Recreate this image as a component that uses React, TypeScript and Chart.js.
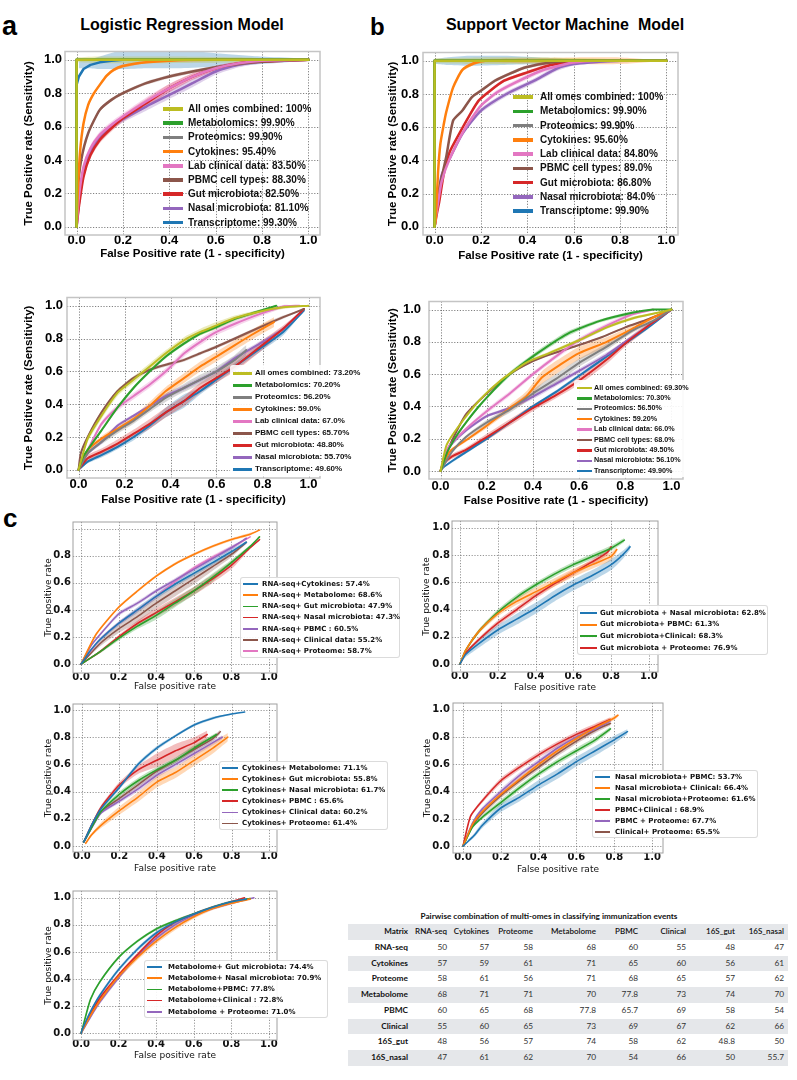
import React, { useEffect, useRef } from "react";
import { Chart, registerables } from "chart.js";
Chart.register(...registerables);

// ---------- colours (matplotlib tab10) ----------
const BLUE = "#1f77b4", ORANGE = "#ff7f0e", GREEN = "#2ca02c", RED = "#d62728", PURPLE = "#9467bd",
  BROWN = "#8c564b", PINK = "#e377c2", GRAY = "#7f7f7f", OLIVE = "#bcbd22";

const TICKS = [0, 0.2, 0.4, 0.6, 0.8, 1.0];

// ================= DATA =================
// points are [false positive rate, true positive rate, half-width of shaded band]
// bands (when given separately) are [false positive rate, lower, upper]

// ---- a: Logistic regression, top ----
const LR1_LABELS = ["All omes combined: 100%", "Metabolomics: 99.90%", "Proteomics: 99.90%", "Cytokines: 95.40%", "Lab clinical data: 83.50%", "PBMC cell types: 88.30%", "Gut microbiota: 82.50%", "Nasal microbiota: 81.10%", "Transcriptome: 99.30%"];
const LR1_ALL = [[0, 0, 0], [0, 1, 0], [1, 1, 0]];
const LR1_ALL_BAND = [[0, 0.985, 1.015], [0.1, 0.98, 1.02], [0.4, 0.98, 1.02], [0.7, 0.985, 1.015], [1, 1, 1]];
const LR1_MET = [[0, 0, 0], [0, 1, 0], [1, 1, 0]];
const LR1_PRO = [[0, 0, 0], [0, 1, 0], [1, 1, 0]];
const LR1_CYT = [[0, 0, 0], [0.005, 0.2, 0], [0.015, 0.45, 0.01], [0.03, 0.62, 0.01], [0.05, 0.73, 0.01], [0.075, 0.8, 0.01], [0.1, 0.85, 0.01], [0.13, 0.905, 0.01], [0.16, 0.94, 0.01], [0.2, 0.963, 0.01], [0.3, 0.985, 0.005], [0.4, 0.995, 0], [0.6, 1, 0], [1, 1, 0]];
const LR1_LAB = [[0, 0, 0], [0.01, 0.18, 0.02], [0.03, 0.36, 0.02], [0.06, 0.47, 0.02], [0.1, 0.55, 0.02], [0.15, 0.61, 0.02], [0.2, 0.66, 0.02], [0.3, 0.75, 0.025], [0.4, 0.83, 0.025], [0.5, 0.9, 0.02], [0.6, 0.95, 0.015], [0.7, 0.98, 0.01], [0.8, 0.995, 0.01], [1, 1, 0]];
const LR1_PBMC = [[0, 0, 0], [0.005, 0.22, 0.01], [0.02, 0.4, 0.01], [0.05, 0.56, 0.01], [0.1, 0.7, 0.01], [0.15, 0.76, 0.01], [0.2, 0.8, 0.01], [0.3, 0.86, 0.01], [0.4, 0.9, 0.01], [0.5, 0.93, 0.01], [0.6, 0.955, 0.01], [0.7, 0.975, 0.01], [0.8, 0.99, 0.01], [1, 1, 0]];
const LR1_GUT = [[0, 0, 0], [0.01, 0.12, 0.02], [0.03, 0.3, 0.02], [0.06, 0.43, 0.02], [0.1, 0.52, 0.02], [0.15, 0.59, 0.02], [0.2, 0.65, 0.02], [0.3, 0.74, 0.025], [0.4, 0.83, 0.025], [0.5, 0.9, 0.02], [0.6, 0.95, 0.015], [0.7, 0.98, 0.01], [0.8, 0.99, 0.01], [1, 1, 0]];
const LR1_NAS = [[0, 0, 0], [0.01, 0.14, 0.02], [0.03, 0.33, 0.02], [0.06, 0.45, 0.02], [0.1, 0.54, 0.02], [0.15, 0.6, 0.02], [0.2, 0.645, 0.02], [0.3, 0.72, 0.025], [0.4, 0.79, 0.025], [0.5, 0.86, 0.025], [0.6, 0.93, 0.02], [0.7, 0.97, 0.015], [0.8, 0.99, 0.01], [1, 1, 0]];
const LR1_TRA = [[0, 0, 0], [0, 0.85, 0], [0.01, 0.9, 0], [0.03, 0.945, 0], [0.06, 0.97, 0], [0.1, 0.985, 0], [0.15, 0.995, 0], [0.2, 1, 0], [1, 1, 0]];
const LR1_TRA_BAND = [[0.01, 0.95, 0.99], [0.05, 0.95, 1.0], [0.1, 0.945, 1.02], [0.2, 0.945, 1.06], [0.3, 0.95, 1.07], [0.45, 0.95, 1.06], [0.6, 0.96, 1.04], [0.8, 0.975, 1.02], [0.95, 0.99, 1.01]];

// ---- b: SVM, top ----
const SV1_LABELS = ["All omes combined: 100%", "Metabolomics: 99.90%", "Proteomics: 99.90%", "Cytokines: 95.60%", "Lab clinical data: 84.80%", "PBMC cell types: 89.0%", "Gut microbiota: 86.80%", "Nasal microbiota: 84.0%", "Transcriptome: 99.90%"];
const SV1_ALL = [[0, 0, 0], [0, 1, 0], [1, 1, 0]];
const SV1_ALL_BAND = [[0, 0.985, 1.015], [0.2, 0.98, 1.02], [0.5, 0.985, 1.02], [1, 1, 1]];
const SV1_MET = [[0, 0, 0], [0, 1, 0], [1, 1, 0]];
const SV1_PRO = [[0, 0, 0], [0, 1, 0], [1, 1, 0]];
const SV1_CYT = [[0, 0, 0], [0.005, 0.05, 0], [0.015, 0.33, 0.01], [0.025, 0.5, 0.01], [0.04, 0.62, 0.01], [0.05, 0.69, 0.01], [0.08, 0.84, 0.01], [0.12, 0.945, 0.01], [0.17, 0.985, 0.01], [0.22, 1, 0.01], [0.4, 1, 0.015], [0.6, 1, 0.02], [0.8, 1, 0.02], [1, 1, 0]];
const SV1_LAB = [[0, 0, 0], [0.01, 0.1, 0.01], [0.03, 0.27, 0.01], [0.065, 0.41, 0.01], [0.13, 0.59, 0.01], [0.2, 0.73, 0.01], [0.27, 0.81, 0.015], [0.35, 0.87, 0.015], [0.46, 0.94, 0.015], [0.55, 0.975, 0.01], [0.6, 0.99, 0.01], [0.7, 1, 0.01], [1, 1, 0]];
const SV1_PBMC = [[0, 0, 0], [0.01, 0.12, 0.01], [0.02, 0.23, 0.01], [0.05, 0.42, 0.01], [0.08, 0.64, 0.01], [0.12, 0.7, 0.01], [0.16, 0.78, 0.01], [0.2, 0.82, 0.01], [0.26, 0.88, 0.01], [0.32, 0.92, 0.01], [0.39, 0.96, 0.01], [0.5, 0.99, 0.01], [0.65, 1, 0.01], [1, 1, 0]];
const SV1_GUT = [[0, 0, 0], [0.01, 0.08, 0.01], [0.02, 0.15, 0.01], [0.04, 0.32, 0.01], [0.065, 0.45, 0.01], [0.11, 0.57, 0.01], [0.15, 0.67, 0.01], [0.19, 0.76, 0.01], [0.24, 0.82, 0.01], [0.3, 0.88, 0.01], [0.4, 0.93, 0.01], [0.5, 0.975, 0.01], [0.65, 1, 0.01], [1, 1, 0]];
const SV1_NAS = [[0, 0, 0], [0.01, 0.12, 0.01], [0.03, 0.31, 0.01], [0.065, 0.41, 0.01], [0.12, 0.56, 0.01], [0.2, 0.7, 0.015], [0.31, 0.8, 0.015], [0.43, 0.88, 0.015], [0.53, 0.955, 0.015], [0.6, 0.98, 0.01], [0.67, 0.99, 0.01], [0.8, 1, 0.01], [1, 1, 0]];
const SV1_TRA = [[0, 0, 0], [0, 1, 0], [1, 1, 0]];
const SV1_TRA_BAND = [[0, 0.98, 1.01], [0.05, 0.975, 1.02], [0.15, 0.97, 1.03], [0.3, 0.975, 1.03], [0.45, 0.98, 1.02], [0.6, 0.99, 1.01]];

// ---- a: Logistic regression, bottom ----
const LR2_LABELS = ["All omes combined: 73.20%", "Metabolomics: 70.20%", "Proteomics: 56.20%", "Cytokines: 59.0%", "Lab clinical data: 67.0%", "PBMC cell types: 65.70%", "Gut microbiota: 48.80%", "Nasal microbiota: 55.70%", "Transcriptome: 49.60%"];
const LR2_ALL = [[0, 0, 0], [0.01, 0.05, 0.01], [0.04, 0.19, 0.02], [0.1, 0.33, 0.02], [0.17, 0.47, 0.02], [0.24, 0.55, 0.02], [0.31, 0.63, 0.02], [0.38, 0.71, 0.02], [0.46, 0.79, 0.02], [0.53, 0.84, 0.02], [0.6, 0.88, 0.02], [0.68, 0.925, 0.015], [0.79, 0.965, 0.01], [0.89, 0.99, 0.01], [1, 1, 0]];
const LR2_MET = [[0, 0, 0], [0.02, 0.08, 0.01], [0.1, 0.24, 0.01], [0.17, 0.38, 0.01], [0.24, 0.5, 0.01], [0.31, 0.6, 0.01], [0.38, 0.69, 0.01], [0.46, 0.77, 0.01], [0.53, 0.83, 0.01], [0.6, 0.87, 0.01], [0.68, 0.92, 0.01], [0.77, 0.96, 0.01], [0.86, 1, 0.005]];
const LR2_PRO = [[0, 0, 0], [0.04, 0.1, 0.01], [0.1, 0.17, 0.015], [0.17, 0.24, 0.02], [0.24, 0.3, 0.02], [0.31, 0.37, 0.02], [0.38, 0.44, 0.025], [0.46, 0.5, 0.025], [0.53, 0.55, 0.03], [0.6, 0.6, 0.03], [0.68, 0.67, 0.03], [0.73, 0.73, 0.03]];
const LR2_CYT = [[0, 0, 0], [0.04, 0.12, 0.01], [0.1, 0.19, 0.015], [0.17, 0.25, 0.02], [0.24, 0.31, 0.02], [0.31, 0.39, 0.025], [0.38, 0.48, 0.025], [0.46, 0.56, 0.03], [0.53, 0.63, 0.03], [0.6, 0.69, 0.03], [0.68, 0.76, 0.03], [0.75, 0.82, 0.03], [0.85, 0.9, 0.03]];
const LR2_LAB = [[0, 0, 0], [0.04, 0.12, 0.01], [0.1, 0.28, 0.015], [0.17, 0.38, 0.02], [0.24, 0.45, 0.02], [0.31, 0.52, 0.02], [0.38, 0.6, 0.02], [0.46, 0.71, 0.02], [0.53, 0.78, 0.02], [0.6, 0.84, 0.02], [0.68, 0.89, 0.02], [0.79, 0.95, 0.015], [0.89, 0.995, 0.01], [0.96, 1, 0]];
const LR2_PBMC = [[0, 0, 0], [0.01, 0.1, 0.01], [0.04, 0.2, 0.01], [0.1, 0.35, 0.01], [0.17, 0.48, 0.01], [0.24, 0.56, 0.01], [0.31, 0.61, 0.01], [0.38, 0.64, 0.01], [0.46, 0.67, 0.01], [0.53, 0.71, 0.01], [0.6, 0.75, 0.01], [0.68, 0.8, 0.01], [0.79, 0.87, 0.01], [0.89, 0.93, 0.01], [0.98, 0.98, 0]];
const LR2_GUT = [[0, 0, 0], [0.04, 0.07, 0.02], [0.1, 0.11, 0.02], [0.17, 0.16, 0.025], [0.24, 0.22, 0.025], [0.31, 0.28, 0.03], [0.38, 0.35, 0.03], [0.46, 0.42, 0.03], [0.53, 0.5, 0.03], [0.6, 0.56, 0.03], [0.68, 0.63, 0.03], [0.79, 0.75, 0.03], [0.89, 0.86, 0.02], [0.98, 0.98, 0]];
const LR2_NAS = [[0, 0, 0], [0.04, 0.1, 0.01], [0.1, 0.17, 0.01], [0.17, 0.27, 0.01], [0.24, 0.33, 0.01], [0.31, 0.39, 0.01], [0.38, 0.45, 0.015], [0.46, 0.5, 0.015], [0.53, 0.55, 0.015], [0.6, 0.6, 0.015], [0.68, 0.68, 0.015], [0.79, 0.77, 0.015], [0.89, 0.86, 0.01], [0.98, 0.98, 0]];
const LR2_TRA = [[0, 0, 0], [0.04, 0.05, 0.01], [0.1, 0.09, 0.015], [0.17, 0.14, 0.015], [0.24, 0.2, 0.02], [0.31, 0.27, 0.02], [0.38, 0.35, 0.03], [0.46, 0.42, 0.04], [0.53, 0.48, 0.02], [0.6, 0.55, 0.02], [0.68, 0.63, 0.02], [0.79, 0.74, 0.02], [0.89, 0.84, 0.02], [0.98, 0.97, 0]];

// ---- b: SVM, bottom ----
const SV2_LABELS = ["All omes combined: 69.30%", "Metabolomics: 70.30%", "Proteomics: 56.50%", "Cytokines: 59.20%", "Lab clinical data: 66.0%", "PBMC cell types: 68.0%", "Gut microbiota: 49.50%", "Nasal microbiota: 56.10%", "Transcriptome: 49.90%"];
const SV2_ALL = [[0, 0, 0], [0.026, 0.16, 0.01], [0.08, 0.28, 0.01], [0.17, 0.44, 0.01], [0.26, 0.56, 0.01], [0.37, 0.67, 0.01], [0.47, 0.73, 0.01], [0.6, 0.81, 0.01], [0.72, 0.89, 0.01], [0.83, 0.945, 0.01], [0.94, 0.98, 0.005], [1, 1, 0]];
const SV2_MET = [[0, 0, 0], [0.03, 0.12, 0.01], [0.07, 0.22, 0.01], [0.11, 0.3, 0.01], [0.16, 0.39, 0.01], [0.21, 0.47, 0.01], [0.3, 0.6, 0.015], [0.42, 0.73, 0.015], [0.55, 0.85, 0.015], [0.69, 0.93, 0.01], [0.83, 0.98, 0.01], [0.92, 1, 0], [1, 1, 0]];
const SV2_PRO = [[0, 0, 0], [0.05, 0.12, 0.01], [0.11, 0.21, 0.01], [0.2, 0.3, 0.015], [0.3, 0.38, 0.02], [0.4, 0.48, 0.025], [0.5, 0.57, 0.03], [0.6, 0.67, 0.025], [0.72, 0.77, 0.02], [0.83, 0.87, 0.015], [0.92, 0.93, 0.01], [1, 1, 0]];
const SV2_CYT = [[0, 0, 0], [0.04, 0.12, 0.01], [0.11, 0.19, 0.01], [0.2, 0.28, 0.015], [0.3, 0.39, 0.02], [0.37, 0.46, 0.03], [0.44, 0.58, 0.04], [0.52, 0.66, 0.04], [0.6, 0.73, 0.04], [0.72, 0.8, 0.03], [0.83, 0.88, 0.02], [0.92, 0.95, 0.01], [1, 1, 0]];
const SV2_LAB = [[0, 0, 0], [0.03, 0.14, 0.01], [0.11, 0.26, 0.01], [0.2, 0.37, 0.015], [0.3, 0.48, 0.015], [0.4, 0.6, 0.015], [0.5, 0.71, 0.015], [0.6, 0.81, 0.015], [0.72, 0.9, 0.015], [0.83, 0.97, 0.01], [0.92, 1, 0]];
const SV2_PBMC = [[0, 0, 0], [0.012, 0.06, 0.005], [0.04, 0.16, 0.005], [0.11, 0.35, 0.005], [0.2, 0.48, 0.005], [0.3, 0.6, 0.005], [0.4, 0.68, 0.005], [0.47, 0.72, 0.005], [0.6, 0.78, 0.005], [0.7, 0.83, 0.005], [0.8, 0.89, 0.005], [0.9, 0.94, 0.005], [1, 1, 0]];
const SV2_GUT = [[0, 0, 0], [0.01, 0.04, 0.01], [0.05, 0.09, 0.015], [0.11, 0.13, 0.015], [0.2, 0.21, 0.02], [0.3, 0.3, 0.02], [0.4, 0.39, 0.02], [0.5, 0.47, 0.02], [0.6, 0.56, 0.025], [0.72, 0.69, 0.025], [0.8, 0.79, 0.02], [0.9, 0.9, 0.015], [1, 1, 0]];
const SV2_NAS = [[0, 0, 0], [0.04, 0.15, 0.01], [0.11, 0.25, 0.01], [0.2, 0.34, 0.01], [0.3, 0.39, 0.01], [0.4, 0.46, 0.015], [0.5, 0.54, 0.015], [0.6, 0.62, 0.015], [0.72, 0.72, 0.015], [0.83, 0.83, 0.01], [0.92, 0.92, 0.01], [1, 1, 0]];
const SV2_TRA = [[0, 0, 0], [0.01, 0.02, 0.005], [0.07, 0.08, 0.01], [0.2, 0.2, 0.01], [0.3, 0.3, 0.01], [0.4, 0.4, 0.01], [0.5, 0.49, 0.01], [0.6, 0.59, 0.01], [0.7, 0.69, 0.01], [0.8, 0.79, 0.01], [0.9, 0.89, 0.01], [1, 1, 0]];

// ---- c: RNA-seq pairs ----
const RNA_LABELS = ["RNA-seq+Cytokines: 57.4%", "RNA-seq+ Metabolome: 68.6%", "RNA-seq+ Gut microbiota: 47.9%", "RNA-seq+ Nasal microbiota: 47.3%", "RNA-seq+ PBMC : 60.5%", "RNA-seq+ Clinical data: 55.2%", "RNA-seq+ Proteome: 58.7%"];
const RNA_CYT = [[0, 0, 0.01], [0.05, 0.1, 0.01], [0.1, 0.18, 0.015], [0.2, 0.3, 0.015], [0.3, 0.4, 0.02], [0.4, 0.5, 0.02], [0.5, 0.59, 0.02], [0.6, 0.67, 0.02], [0.7, 0.75, 0.02], [0.8, 0.83, 0.02], [0.88, 0.9, 0.01]];
const RNA_MET = [[0, 0, 0], [0.08, 0.22, 0.01], [0.2, 0.42, 0.01], [0.3, 0.54, 0.01], [0.4, 0.65, 0.01], [0.5, 0.74, 0.01], [0.6, 0.81, 0.01], [0.7, 0.87, 0.01], [0.8, 0.92, 0.01], [0.9, 0.96, 0.01], [0.95, 0.99, 0]];
const RNA_GUT = [[0, 0, 0], [0.1, 0.09, 0.01], [0.2, 0.19, 0.015], [0.3, 0.28, 0.02], [0.4, 0.36, 0.03], [0.5, 0.45, 0.03], [0.6, 0.54, 0.03], [0.7, 0.64, 0.03], [0.8, 0.75, 0.02], [0.9, 0.87, 0.01], [0.95, 0.94, 0]];
const RNA_NAS = [[0, 0, 0], [0.1, 0.09, 0.01], [0.2, 0.2, 0.015], [0.3, 0.3, 0.02], [0.4, 0.38, 0.03], [0.5, 0.46, 0.03], [0.6, 0.54, 0.03], [0.7, 0.63, 0.03], [0.8, 0.73, 0.03], [0.9, 0.86, 0.01], [0.95, 0.92, 0]];
const RNA_PBMC = [[0, 0, 0], [0.05, 0.13, 0.01], [0.09, 0.2, 0.01], [0.2, 0.37, 0.015], [0.3, 0.45, 0.015], [0.4, 0.54, 0.015], [0.5, 0.62, 0.015], [0.6, 0.7, 0.015], [0.7, 0.78, 0.015], [0.8, 0.86, 0.015], [0.88, 0.93, 0]];
const RNA_CLI = [[0, 0, 0], [0.1, 0.15, 0.02], [0.2, 0.26, 0.03], [0.3, 0.35, 0.04], [0.4, 0.45, 0.04], [0.5, 0.54, 0.04], [0.6, 0.63, 0.04], [0.7, 0.72, 0.03], [0.8, 0.81, 0.02], [0.88, 0.9, 0.01]];
const RNA_PRO = [[0, 0, 0], [0.1, 0.18, 0.01], [0.2, 0.3, 0.015], [0.3, 0.4, 0.015], [0.4, 0.5, 0.015], [0.5, 0.61, 0.015], [0.6, 0.71, 0.015], [0.7, 0.79, 0.015], [0.8, 0.86, 0.015], [0.9, 0.94, 0]];

// ---- c: Gut microbiota pairs ----
const GUT_LABELS = ["Gut microbiota + Nasal microbiota: 62.8%", "Gut microbiota+ PBMC: 61.3%", "Gut microbiota+Clinical: 68.3%", "Gut microbiota + Proteome: 76.9%"];
const GUT_NAS = [[0, 0, 0], [0.03, 0.07, 0.02], [0.1, 0.15, 0.03], [0.2, 0.25, 0.035], [0.3, 0.33, 0.04], [0.4, 0.41, 0.04], [0.5, 0.5, 0.04], [0.6, 0.58, 0.04], [0.7, 0.65, 0.04], [0.8, 0.73, 0.04], [0.86, 0.8, 0.03], [0.9, 0.86, 0.02]];
const GUT_PBMC = [[0, 0, 0], [0.03, 0.1, 0.01], [0.1, 0.24, 0.015], [0.2, 0.37, 0.02], [0.3, 0.46, 0.025], [0.4, 0.53, 0.03], [0.5, 0.6, 0.03], [0.6, 0.67, 0.03], [0.7, 0.73, 0.03], [0.8, 0.79, 0.03], [0.83, 0.84, 0.02]];
const GUT_CLI = [[0, 0, 0], [0.03, 0.1, 0.01], [0.1, 0.24, 0.015], [0.2, 0.38, 0.02], [0.3, 0.49, 0.02], [0.4, 0.58, 0.02], [0.5, 0.66, 0.02], [0.6, 0.73, 0.02], [0.7, 0.79, 0.02], [0.8, 0.85, 0.02], [0.87, 0.91, 0.015]];
const GUT_PRO = [[0, 0, 0], [0.03, 0.08, 0.01], [0.1, 0.18, 0.015], [0.2, 0.3, 0.02], [0.3, 0.4, 0.02], [0.4, 0.5, 0.02], [0.5, 0.59, 0.02], [0.6, 0.67, 0.02], [0.7, 0.75, 0.02], [0.78, 0.82, 0.02], [0.8, 0.86, 0.01]];

// ---- c: Cytokines pairs ----
const CYT_LABELS = ["Cytokines+ Metabolome: 71.1%", "Cytokines+ Gut microbiota: 55.8%", "Cytokines+ Nasal microbiota: 61.7%", "Cytokines+ PBMC : 65.6%", "Cytokines+ Clinical data: 60.2%", "Cytokines+ Proteome: 61.4%"];
const CYT_MET = [[0.01, 0.03, 0], [0.05, 0.15, 0.01], [0.1, 0.27, 0.01], [0.2, 0.43, 0.015], [0.3, 0.6, 0.015], [0.4, 0.72, 0.015], [0.5, 0.81, 0.01], [0.6, 0.89, 0.01], [0.7, 0.94, 0.01], [0.8, 0.97, 0.005], [0.87, 0.985, 0]];
const CYT_GUT = [[0.02, 0.02, 0], [0.05, 0.08, 0.01], [0.1, 0.15, 0.02], [0.2, 0.26, 0.03], [0.3, 0.36, 0.035], [0.4, 0.47, 0.04], [0.5, 0.54, 0.04], [0.6, 0.63, 0.04], [0.7, 0.72, 0.04], [0.78, 0.8, 0.03]];
const CYT_NAS = [[0.01, 0.03, 0], [0.1, 0.25, 0.015], [0.2, 0.38, 0.02], [0.3, 0.48, 0.02], [0.4, 0.56, 0.02], [0.5, 0.63, 0.02], [0.6, 0.72, 0.02], [0.72, 0.82, 0.015]];
const CYT_PBMC = [[0.01, 0.03, 0], [0.05, 0.15, 0.01], [0.1, 0.28, 0.015], [0.2, 0.45, 0.02], [0.3, 0.56, 0.03], [0.4, 0.63, 0.05], [0.5, 0.7, 0.05], [0.6, 0.76, 0.04], [0.67, 0.82, 0.03]];
const CYT_CLI = [[0.01, 0.03, 0], [0.1, 0.24, 0.01], [0.2, 0.33, 0.015], [0.3, 0.42, 0.02], [0.4, 0.52, 0.02], [0.5, 0.6, 0.02], [0.6, 0.68, 0.02], [0.7, 0.76, 0.02], [0.75, 0.8, 0.015]];
const CYT_PRO = [[0.01, 0.03, 0], [0.1, 0.25, 0.01], [0.2, 0.35, 0.015], [0.3, 0.45, 0.02], [0.4, 0.55, 0.02], [0.5, 0.63, 0.02], [0.6, 0.71, 0.02], [0.7, 0.79, 0.02], [0.74, 0.84, 0.015]];

// ---- c: Nasal / PBMC / Clinical pairs ----
const NAS_LABELS = ["Nasal microbiota+ PBMC: 53.7%", "Nasal microbiota+ Clinical: 66.4%", "Nasal microbiota+Proteome: 61.6%", "PBMC+Clinical : 68.9%", "PBMC + Proteome: 67.7%", "Clinical+ Proteome: 65.5%"];
const NAS_PBMC = [[0, 0, 0], [0.03, 0.04, 0.01], [0.06, 0.08, 0.015], [0.1, 0.15, 0.02], [0.2, 0.28, 0.03], [0.3, 0.36, 0.03], [0.4, 0.45, 0.035], [0.5, 0.53, 0.035], [0.6, 0.62, 0.035], [0.7, 0.7, 0.035], [0.8, 0.78, 0.03], [0.87, 0.84, 0.02]];
const NAS_CLI = [[0, 0, 0], [0.05, 0.16, 0.01], [0.1, 0.25, 0.015], [0.2, 0.38, 0.02], [0.3, 0.49, 0.02], [0.4, 0.6, 0.02], [0.5, 0.7, 0.02], [0.6, 0.79, 0.02], [0.7, 0.87, 0.02], [0.8, 0.94, 0.015], [0.82, 0.96, 0.01]];
const NAS_PRO = [[0, 0, 0], [0.05, 0.14, 0.01], [0.1, 0.21, 0.015], [0.2, 0.32, 0.02], [0.3, 0.43, 0.02], [0.4, 0.53, 0.02], [0.5, 0.62, 0.02], [0.6, 0.7, 0.02], [0.7, 0.78, 0.02], [0.78, 0.86, 0.015]];
const PBMC_CLI = [[0, 0, 0], [0.04, 0.22, 0.01], [0.1, 0.33, 0.015], [0.2, 0.48, 0.02], [0.3, 0.58, 0.02], [0.4, 0.67, 0.02], [0.5, 0.75, 0.02], [0.6, 0.82, 0.02], [0.7, 0.88, 0.02], [0.78, 0.93, 0.015]];
const PBMC_PRO = [[0, 0, 0], [0.05, 0.17, 0.01], [0.1, 0.27, 0.015], [0.2, 0.4, 0.02], [0.3, 0.52, 0.02], [0.4, 0.62, 0.02], [0.5, 0.72, 0.02], [0.6, 0.8, 0.02], [0.7, 0.86, 0.02], [0.78, 0.92, 0.015]];
const CLI_PRO = [[0, 0, 0], [0.05, 0.15, 0.01], [0.1, 0.24, 0.015], [0.2, 0.37, 0.02], [0.3, 0.48, 0.02], [0.4, 0.58, 0.02], [0.5, 0.68, 0.02], [0.6, 0.77, 0.02], [0.7, 0.85, 0.02], [0.78, 0.9, 0.015]];

// ---- c: Metabolome pairs ----
const MET_LABELS = ["Metabolome+ Gut microbiota: 74.4%", "Metabolome+ Nasal microbiota: 70.9%", "Metabolome+PBMC: 77.8%", "Metabolome+Clinical : 72.8%", "Metabolome + Proteome: 71.0%"];
const MET_GUT = [[0, 0, 0], [0.01, 0.04, 0.01], [0.05, 0.16, 0.01], [0.1, 0.28, 0.015], [0.2, 0.47, 0.015], [0.3, 0.62, 0.015], [0.4, 0.74, 0.015], [0.5, 0.82, 0.015], [0.6, 0.88, 0.01], [0.7, 0.93, 0.01], [0.8, 0.97, 0.01], [0.88, 0.99, 0]];
const MET_NAS = [[0, 0, 0], [0.05, 0.13, 0.01], [0.1, 0.24, 0.015], [0.2, 0.42, 0.02], [0.3, 0.56, 0.02], [0.4, 0.68, 0.02], [0.5, 0.78, 0.02], [0.6, 0.86, 0.015], [0.7, 0.92, 0.01], [0.8, 0.96, 0.01], [0.9, 0.99, 0]];
const MET_PBMC = [[0, 0, 0], [0.01, 0.05, 0.01], [0.05, 0.25, 0.01], [0.1, 0.38, 0.01], [0.2, 0.56, 0.01], [0.3, 0.68, 0.01], [0.4, 0.77, 0.01], [0.5, 0.83, 0.01], [0.6, 0.88, 0.01], [0.7, 0.93, 0.01], [0.8, 0.97, 0.005], [0.9, 0.995, 0]];
const MET_CLI = [[0, 0, 0], [0.01, 0.04, 0.01], [0.05, 0.14, 0.01], [0.1, 0.26, 0.015], [0.2, 0.43, 0.015], [0.3, 0.58, 0.015], [0.4, 0.72, 0.015], [0.5, 0.82, 0.015], [0.6, 0.88, 0.01], [0.7, 0.93, 0.01], [0.8, 0.97, 0.01], [0.87, 1, 0]];
const MET_PRO = [[0, 0, 0], [0.05, 0.12, 0.01], [0.1, 0.23, 0.015], [0.2, 0.41, 0.015], [0.3, 0.57, 0.015], [0.4, 0.7, 0.015], [0.5, 0.8, 0.015], [0.6, 0.87, 0.01], [0.7, 0.92, 0.01], [0.8, 0.96, 0.01], [0.92, 1, 0]];

// ---- c: table ----
const TABLE_TITLE = "Pairwise combination of multi-omes in classifying immunization events";
const TABLE_HEAD = ["Matrix", "RNA-seq", "Cytokines", "Proteome", "Metabolome", "PBMC", "Clinical", "16S_gut", "16S_nasal"];
const TABLE_ROWS = ["RNA-seq", "Cytokines", "Proteome", "Metabolome", "PBMC", "Clinical", "16S_gut", "16S_nasal"];
const TABLE_VALUES = [
  ["50", "57", "58", "68", "60", "55", "48", "47"],
  ["57", "59", "61", "71", "65", "60", "56", "61"],
  ["58", "61", "56", "71", "68", "65", "57", "62"],
  ["68", "71", "71", "70", "77.8", "73", "74", "70"],
  ["60", "65", "68", "77.8", "65.7", "69", "58", "54"],
  ["55", "60", "65", "73", "69", "67", "62", "66"],
  ["48", "56", "57", "74", "58", "62", "48.8", "50"],
  ["47", "61", "62", "70", "54", "66", "50", "55.7"],
];

// ================= STYLE / LAYOUT =================
const TOP_COLORS = [OLIVE, GREEN, GRAY, ORANGE, PINK, BROWN, RED, PURPLE, BLUE];
const HELV = '"Liberation Sans", Arial, Helvetica, sans-serif';
const DEJA = '"DejaVu Sans", Verdana, sans-serif';
const TABF = "Lato, 'Open Sans', sans-serif";

function mk(labels: string[], colors: string[], pts: number[][][], bands: any[] = []) {
  return labels.map((label, i) => ({ label, color: colors[i], pts: pts[i], band: bands[i] }));
}

const topBase = {
  tickFont: { family: HELV, size: 13, weight: "bold" },
  titleFont: { family: HELV, size: 11.5, weight: "bold" },
  xTitle: "False Positive rate (1 - specificity)",
  yTitle: "True Positive rate (Sensitivity)",
  frameColor: "#c4c4c4", frameWidth: 1.5, gridColor: "rgba(70,70,70,0.85)",
  textColor: "#000", alpha: 0.3, yLabels: TICKS,
};
const cBase = {
  tickFont: { family: DEJA, size: 10, weight: "bold" },
  titleFont: { family: DEJA, size: 9, weight: "normal" },
  xTitle: "False positive rate",
  yTitle: "True positive rate",
  frameColor: "#a0a0a0", frameWidth: 1, gridColor: "rgba(90,90,90,0.8)",
  textColor: "#111", alpha: 0.3, yLabels: TICKS, lw: 1.6,
};

const SPECS: any[] = [
  {
    ...topBase, frame: [65, 48, 320, 235], xr: [-0.05, 1.05], yr: [-0.05, 1.05], yTitleX: 29, xTitleY: 254, xPad: -1, yPad: 3, lw: 2.5,
    series: mk(LR1_LABELS, TOP_COLORS, [LR1_ALL, LR1_MET, LR1_PRO, LR1_CYT, LR1_LAB, LR1_PBMC, LR1_GUT, LR1_NAS, LR1_TRA], [LR1_ALL_BAND, , , , , , , , LR1_TRA_BAND]),
    legend: { lx: 163, len: 20, tx: 188, y0: 109, dy: 14.2, fs: 10, family: HELV, lw: 3.5 },
  },
  {
    ...topBase, frame: [423, 48, 678, 235], xr: [-0.05, 1.05], yr: [-0.05, 1.05], yTitleX: 393, xTitleY: 256, xPad: -1, yPad: 4, lw: 2.5,
    series: mk(SV1_LABELS, TOP_COLORS, [SV1_ALL, SV1_MET, SV1_PRO, SV1_CYT, SV1_LAB, SV1_PBMC, SV1_GUT, SV1_NAS, SV1_TRA], [SV1_ALL_BAND, , , , , , , , SV1_TRA_BAND]),
    legend: { lx: 513, len: 20, tx: 540, y0: 97, dy: 14.25, fs: 10, family: HELV, lw: 3.5 },
  },
  {
    ...topBase, frame: [67, 293, 320, 478], xr: [-0.05, 1.05], yr: [-0.05, 1.05], yTitleX: 29, xTitleY: 500, xPad: 0, yPad: 4, lw: 2,
    series: mk(LR2_LABELS, TOP_COLORS, [LR2_ALL, LR2_MET, LR2_PRO, LR2_CYT, LR2_LAB, LR2_PBMC, LR2_GUT, LR2_NAS, LR2_TRA]),
    legend: { lx: 233, len: 19, tx: 255, y0: 373, dy: 12.0, fs: 8, family: HELV, lw: 3, box: [230, 365, 362, 476] },
  },
  {
    ...topBase, frame: [429, 293, 683, 479], xr: [-0.05, 1.05], yr: [-0.05, 1.05], yTitleX: 393, xTitleY: 501, xPad: 1, yPad: 8, lw: 2,
    series: mk(SV2_LABELS, TOP_COLORS, [SV2_ALL, SV2_MET, SV2_PRO, SV2_CYT, SV2_LAB, SV2_PBMC, SV2_GUT, SV2_NAS, SV2_TRA]),
    legend: { lx: 577, len: 15, tx: 594, y0: 388, dy: 10.4, fs: 7.2, family: HELV, lw: 2.5, box: [574, 380, 692, 477] },
  },
  {
    ...cBase, frame: [73, 521, 277, 673], xr: [-0.043, 1.043], yr: [-0.066, 1.05], yTitleX: 48, xTitleY: 687, xPad: -1, yPad: 2,
    yLabels: [0, 0.2, 0.4, 0.6, 0.8],
    series: mk(RNA_LABELS, [BLUE, ORANGE, GREEN, RED, PURPLE, BROWN, PINK], [RNA_CYT, RNA_MET, RNA_GUT, RNA_NAS, RNA_PBMC, RNA_CLI, RNA_PRO]),
    legend: { lx: 243, len: 15, tx: 262, y0: 584, dy: 11.2, fs: 7, family: DEJA, lw: 1.8, box: [240, 577, 400, 658], border: true },
  },
  {
    ...cBase, frame: [452, 520, 658, 672], xr: [-0.042, 1.048], yr: [-0.058, 1.05], yTitleX: 426, xTitleY: 688, xPad: -1, yPad: 2,
    series: mk(GUT_LABELS, [BLUE, ORANGE, GREEN, RED], [GUT_NAS, GUT_PBMC, GUT_CLI, GUT_PRO]),
    legend: { lx: 580, len: 17, tx: 600, y0: 613, dy: 11.6, fs: 7, family: DEJA, lw: 2, box: [577, 605, 768, 655], border: true },
  },
  {
    ...cBase, frame: [73, 703, 277, 852], xr: [-0.048, 1.043], yr: [-0.044, 1.044], yTitleX: 48, xTitleY: 869, xPad: -1, yPad: 2,
    series: mk(CYT_LABELS, [BLUE, ORANGE, GREEN, RED, PURPLE, BROWN], [CYT_MET, CYT_GUT, CYT_NAS, CYT_PBMC, CYT_CLI, CYT_PRO]),
    legend: { lx: 222, len: 16, tx: 242, y0: 768, dy: 11.1, fs: 7, family: DEJA, lw: 1.8, box: [219, 761, 388, 830], border: true },
  },
  {
    ...cBase, frame: [453, 701, 663, 853], xr: [-0.053, 1.058], yr: [-0.05, 1.05], yTitleX: 427, xTitleY: 870, xPad: -1, yPad: 3,
    series: mk(NAS_LABELS, [BLUE, ORANGE, GREEN, RED, PURPLE, BROWN], [NAS_PBMC, NAS_CLI, NAS_PRO, PBMC_CLI, PBMC_PRO, CLI_PRO]),
    legend: { lx: 595, len: 15, tx: 615, y0: 777, dy: 11.0, fs: 7, family: DEJA, lw: 1.8, box: [592, 770, 758, 838], border: true },
  },
  {
    ...cBase, frame: [73, 890, 277, 1040], xr: [-0.043, 1.043], yr: [-0.05, 1.05], yTitleX: 48, xTitleY: 1056, xPad: -1, yPad: 2,
    series: mk(MET_LABELS, [BLUE, ORANGE, GREEN, RED, PURPLE], [MET_GUT, MET_NAS, MET_PBMC, MET_CLI, MET_PRO]),
    legend: { lx: 147, len: 15, tx: 168, y0: 967, dy: 11.2, fs: 7, family: DEJA, lw: 1.8, box: [144, 960, 328, 1018], border: true },
  },
];

// ================= RENDERING =================
function rgba(hex: string, a: number) {
  const n = parseInt(hex.slice(1), 16);
  return `rgba(${n >> 16},${(n >> 8) & 255},${n & 255},${a})`;
}

function buildDatasets(spec: any) {
  const lines: any[] = [];
  const bands: any[] = [];
  spec.series.forEach((s: any) => {
    const step = s.pts.some((p: number[], i: number) => i > 0 && p[0] === s.pts[i - 1][0]);
    let band = s.band;
    if (!band && s.pts.some((p: number[]) => p[2] > 0)) band = s.pts.map((p: number[]) => [p[0], p[1] - p[2], p[1] + p[2]]);
    if (band) {
      bands.push({ data: band.map((b: number[]) => ({ x: b[0], y: b[2] })), borderWidth: 0, pointRadius: 0, fill: "+1", backgroundColor: rgba(s.color, spec.alpha), tension: 0.2, order: 1 });
      bands.push({ data: band.map((b: number[]) => ({ x: b[0], y: b[1] })), borderWidth: 0, pointRadius: 0, fill: false, backgroundColor: "rgba(0,0,0,0)", tension: 0.2, order: 1 });
    }
    lines.push({ data: s.pts.map((p: number[]) => ({ x: p[0], y: p[1] })), borderColor: s.color, backgroundColor: s.color, borderWidth: spec.lw, pointRadius: 0, fill: false, tension: step ? 0 : 0.2, order: 0, borderJoinStyle: "round", borderCapStyle: "round" });
  });
  return [...lines, ...bands];
}

function geometry(spec: any) {
  const tf = spec.titleFont.size;
  const left = Math.round(spec.yTitleX - 0.6 * tf);
  const top = spec.frame[1] - 6;
  const right = spec.frame[2] + 6;
  const bottom = Math.round(spec.xTitleY + 0.6 * tf);
  return { left, top, width: right - left, height: bottom - top };
}

function RocChart({ spec }: { spec: any }) {
  const ref = useRef<HTMLCanvasElement>(null);
  const g = geometry(spec);
  useEffect(() => {
    const [fl, ft, fr, fb] = spec.frame;
    const yw = fl - g.left;
    const xh = g.top + g.height - fb;
    const tickFont = { ...spec.tickFont, lineHeight: 1 };
    const titleFont = { ...spec.titleFont, lineHeight: 1.2 };
    const framePlugin = {
      id: "frameGrid",
      beforeDatasetsDraw(chart: any) {
        const { ctx, chartArea: a, scales } = chart;
        ctx.save();
        ctx.strokeStyle = spec.gridColor;
        ctx.lineWidth = 0.8;
        ctx.setLineDash([1.2, 1.6]);
        ctx.beginPath();
        TICKS.forEach((v) => {
          const px = Math.round(scales.x.getPixelForValue(v)) + 0.5;
          ctx.moveTo(px, a.top); ctx.lineTo(px, a.bottom);
          const py = Math.round(scales.y.getPixelForValue(v)) + 0.5;
          ctx.moveTo(a.left, py); ctx.lineTo(a.right, py);
        });
        ctx.stroke();
        ctx.restore();
      },
      afterDatasetsDraw(chart: any) {
        const { ctx, chartArea: a } = chart;
        ctx.save();
        ctx.strokeStyle = spec.frameColor;
        ctx.lineWidth = spec.frameWidth;
        ctx.strokeRect(a.left, a.top, a.right - a.left, a.bottom - a.top);
        ctx.restore();
      },
    };
    const chart = new Chart(ref.current as HTMLCanvasElement, {
      type: "line",
      data: { datasets: buildDatasets(spec) },
      options: {
        responsive: false,
        animation: false,
        events: [],
        layout: { padding: { top: ft - g.top, right: g.left + g.width - fr, left: 0, bottom: 0 } },
        plugins: { legend: { display: false }, tooltip: { enabled: false } },
        elements: { point: { radius: 0 } },
        scales: {
          x: {
            type: "linear", min: spec.xr[0], max: spec.xr[1],
            afterBuildTicks: (s: any) => { s.ticks = TICKS.map((v) => ({ value: v })); },
            afterFit: (s: any) => { s.height = xh; },
            grid: { display: false, drawTicks: false },
            border: { display: false },
            ticks: { font: tickFont, color: spec.textColor, padding: spec.xPad, maxRotation: 0, autoSkip: false, callback: (v: any) => Number(v).toFixed(1) },
            title: { display: true, text: spec.xTitle, font: titleFont, color: spec.textColor, padding: 0 },
          },
          y: {
            type: "linear", min: spec.yr[0], max: spec.yr[1],
            afterBuildTicks: (s: any) => { s.ticks = TICKS.map((v) => ({ value: v })); },
            afterFit: (s: any) => { s.width = yw; },
            grid: { display: false, drawTicks: false },
            border: { display: false },
            ticks: { font: tickFont, color: spec.textColor, padding: spec.yPad, autoSkip: false, callback: (v: any) => (spec.yLabels.includes(Number(v)) ? Number(v).toFixed(1) : "") },
            title: { display: true, text: spec.yTitle, font: titleFont, color: spec.textColor, padding: 0 },
          },
        },
      } as any,
      plugins: [framePlugin],
    });
    return () => chart.destroy();
  }, []);
  return <canvas ref={ref} width={g.width} height={g.height} style={{ position: "absolute", left: g.left, top: g.top, width: g.width, height: g.height }} />;
}

function Legend({ spec }: { spec: any }) {
  const L = spec.legend;
  return (
    <>
      {L.box && (
        <div style={{ position: "absolute", left: L.box[0], top: L.box[1], width: L.box[2] - L.box[0], height: L.box[3] - L.box[1], background: "rgba(255,255,255,0.9)", border: L.border ? "1px solid rgba(215,215,215,0.9)" : "none", borderRadius: 3, boxSizing: "border-box" }} />
      )}
      {spec.series.map((s: any, i: number) => {
        const y = L.y0 + i * L.dy;
        return (
          <React.Fragment key={i}>
            <div style={{ position: "absolute", left: L.lx, top: y - L.lw / 2, width: L.len, height: L.lw, background: s.color }} />
            <div style={{ position: "absolute", left: L.tx, top: y - L.fs * 0.6, fontFamily: L.family, fontWeight: "bold", fontSize: L.fs, lineHeight: 1.2, whiteSpace: "nowrap", color: "#111" }}>{s.label}</div>
          </React.Fragment>
        );
      })}
    </>
  );
}

const COL_RIGHT = [408, 447, 489, 533, 596, 638, 686, 735, 784];
const ROW_H = 15.75;

function Table() {
  const rows = [TABLE_HEAD, ...TABLE_ROWS.map((r, i) => [r, ...TABLE_VALUES[i]])];
  return (
    <>
      <div style={{ position: "absolute", left: 349, top: 910, width: 400, textAlign: "center", fontFamily: TABF, fontWeight: 700, fontSize: 8.2, lineHeight: "12px", color: "#111", whiteSpace: "nowrap" }}>{TABLE_TITLE}</div>
      {rows.map((row, r) => (
        <div key={r} style={{ position: "absolute", left: 348, top: 924 + r * ROW_H, width: 440, height: ROW_H, background: r % 2 === 0 ? "#e5e7ea" : "transparent" }} />
      ))}
      {rows.map((row, r) =>
        row.map((cell, c) => (
          <div key={r + "-" + c} style={{ position: "absolute", left: COL_RIGHT[c] - 80, width: 80, top: 924 + r * ROW_H, height: ROW_H, lineHeight: ROW_H + "px", textAlign: "right", fontFamily: TABF, fontSize: r === 0 ? 8 : 8.3, fontWeight: c === 0 ? 700 : r === 0 ? 600 : 400, color: r === 0 || c === 0 ? "#111" : "#333", whiteSpace: "nowrap" }}>{cell}</div>
        ))
      )}
    </>
  );
}

export default function App() {
  const letter = (t: string, left: number, top: number, size: number) => (
    <div style={{ position: "absolute", left, top, fontFamily: HELV, fontWeight: "bold", fontSize: size, lineHeight: 1, color: "#000" }}>{t}</div>
  );
  const title = (t: string, cx: number) => (
    <div style={{ position: "absolute", left: cx - 160, top: 16.5, width: 320, textAlign: "center", fontFamily: HELV, fontWeight: "bold", fontSize: 16, lineHeight: 1, color: "#000", whiteSpace: "pre" }}>{t}</div>
  );
  return (
    <div style={{ position: "absolute", left: 0, top: 0, width: 797, height: 1080, background: "#fff", overflow: "hidden" }}>
      {letter("a", 2, 13, 27)}
      {letter("b", 370, 15, 24)}
      {letter("c", 3, 505, 26)}
      {title("Logistic Regression Model", 182)}
      {title("Support Vector Machine  Model", 565)}
      {SPECS.map((s, i) => <RocChart key={i} spec={s} />)}
      {SPECS.map((s, i) => <Legend key={"l" + i} spec={s} />)}
      <Table />
    </div>
  );
}
